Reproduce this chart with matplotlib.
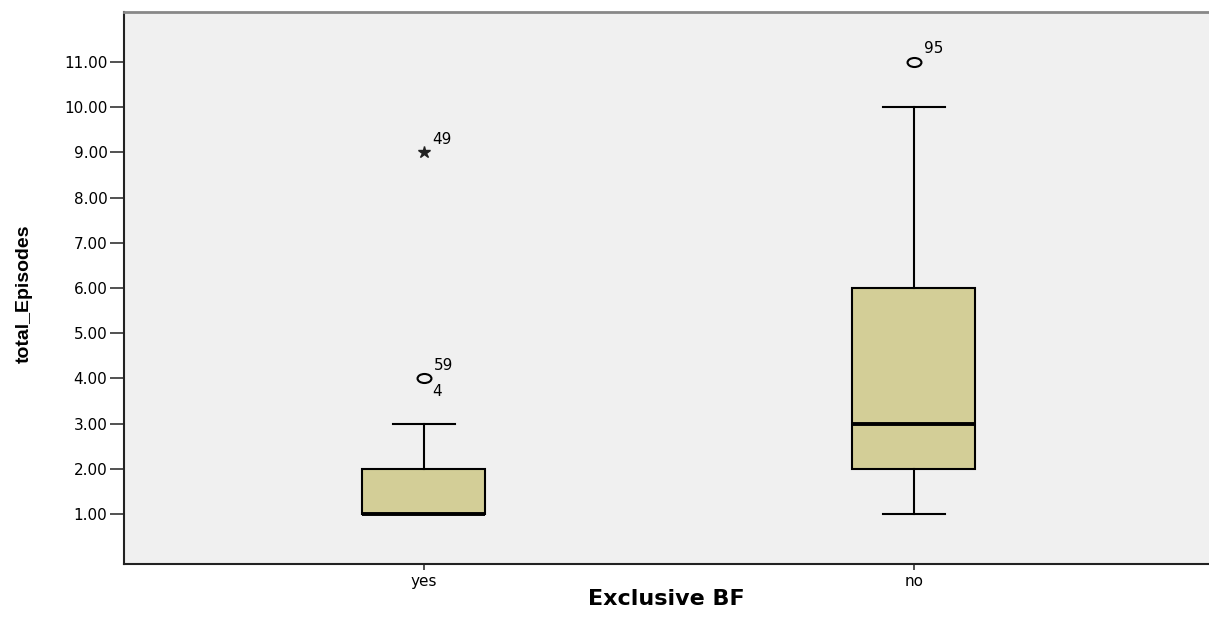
import numpy as np
import matplotlib.pyplot as plt
from matplotlib.path import Path
from matplotlib.transforms import Affine2D

groups = ['yes', 'no']
q1 = [1, 2]
medians = [1, 3]
q3 = [2, 6]
whisker_low = [1, 1]
whisker_high = [3, 10]

# mild outliers (circles) and extreme values (stars), with case numbers
outlier_group = [0, 1]
outlier_value = [4, 11]
outlier_labels = [['59', '4'], ['95']]
extreme_group = [0]
extreme_value = [9]
extreme_labels = ['49']

y_ticks = [1, 2, 3, 4, 5, 6, 7, 8, 9, 10, 11]

box_color = '#d3ce97'
panel_color = '#f0f0f0'

plt.rcParams['font.family'] = ['DejaVu Sans']

# SPSS draws the circles a bit squashed
ellipse = Path.unit_circle().transformed(Affine2D().scale(1.0, 0.65))

fig = plt.figure(figsize=(12.09, 6.19), dpi=100)
ax = fig.add_axes([0.1026, 0.0889, 0.8974, 0.8917])
ax.set_facecolor(panel_color)

positions = [1, 2]
stats = []
for i, g in enumerate(groups):
    stats.append(dict(label=g, med=medians[i], q1=q1[i], q3=q3[i],
                      whislo=whisker_low[i], whishi=whisker_high[i], fliers=[]))

ax.bxp(stats, positions=positions, widths=0.251, capwidths=0.127,
       patch_artist=True, showfliers=False,
       boxprops=dict(facecolor=box_color, edgecolor='black', linewidth=1.5),
       medianprops=dict(color='black', linewidth=2.8),
       whiskerprops=dict(color='black', linewidth=1.5),
       capprops=dict(color='black', linewidth=1.5))

for g, v, lab in zip(outlier_group, outlier_value, outlier_labels):
    x = positions[g]
    ax.plot(x, v, marker=ellipse, markersize=10, markerfacecolor='none',
            markeredgecolor='black', markeredgewidth=1.5, linestyle='none')
    ax.annotate(lab[0], (x, v), xytext=(7, 9.5), textcoords='offset points',
                fontsize=11, ha='left', va='center')
    if len(lab) > 1:
        ax.annotate(lab[1], (x, v), xytext=(6, -9.5), textcoords='offset points',
                    fontsize=11, ha='left', va='center')

for g, v, lab in zip(extreme_group, extreme_value, extreme_labels):
    x = positions[g]
    ax.plot(x, v, marker='*', markersize=9, color='#222222', linestyle='none')
    ax.annotate(lab, (x, v), xytext=(6, 9.5), textcoords='offset points',
                fontsize=11, ha='left', va='center')

ax.set_xlim(0.388, 2.602)
ax.set_ylim(-0.106, 12.106)
ax.set_yticks(y_ticks)
ax.set_yticklabels([f'{t:.2f}' for t in y_ticks])
ax.set_xticks(positions)
ax.set_xticklabels(groups)
ax.tick_params(axis='y', length=10, width=1.2, pad=2, labelsize=11, color='#333333')
ax.tick_params(axis='x', length=4, width=1.2, pad=3, labelsize=11, color='#333333')

ax.spines['right'].set_visible(False)
ax.spines['top'].set_color('#888888')
ax.spines['top'].set_linewidth(2)
ax.spines['left'].set_color('#222222')
ax.spines['left'].set_linewidth(1.5)
ax.spines['bottom'].set_color('#222222')
ax.spines['bottom'].set_linewidth(1.5)

ax.set_xlabel('Exclusive BF', fontsize=16, fontweight='bold')
ax.xaxis.set_label_coords(0.5, -0.045)
ax.set_ylabel('total_Episodes', fontsize=14, fontweight='bold', family='Liberation Sans')
ax.yaxis.set_label_coords(-0.084, 0.49)

fig.savefig('out.png', dpi=100)
